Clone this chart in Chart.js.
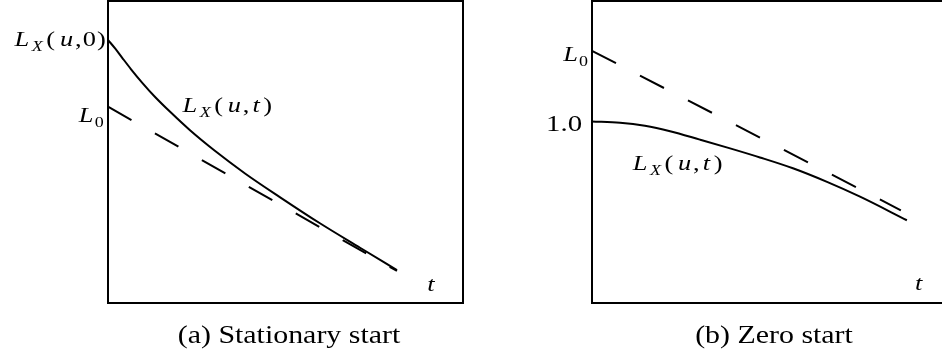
<!DOCTYPE html>
<html lang="en">
<head>
<meta charset="UTF-8" />
<title>Stationary start vs zero start</title>
<script src="https://cdn.jsdelivr.net/npm/chart.js"></script>
<style>
  html, body { margin: 0; padding: 0; background: #fff; overflow: hidden; }
  body { width: 942px; height: 358px; position: relative; }
  canvas { position: absolute; top: 0; }
  #chartA { left: 0; }
  #chartB { left: 471px; }
  .caption {
    position: absolute;
    top: 322px;
    font-family: "Liberation Serif", "Times New Roman", serif;
    font-size: 26px;
    line-height: 26px;
    color: #000;
    white-space: nowrap;
    transform: translateX(-50%) scaleX(1.15);
  }
</style>
</head>
<body>
<canvas id="chartA" width="471" height="358"></canvas>
<canvas id="chartB" width="480" height="358"></canvas>
<div class="caption" style="left:289px">(a) Stationary start</div>
<div class="caption" style="left:774px">(b) Zero start</div>

<script>
  // (a) stationary start: L_X(u,t) falls from L_X(u,0) onto the asymptote L_0
  const tA = [0, 0.2, 0.4, 0.65, 0.96, 1.32, 1.75, 2.31, 3.01, 3.86, 4.85, 5.97, 7.1, 8.14];
  const lxA = [8.71, 8.43, 8.12, 7.74, 7.3, 6.83, 6.33, 5.72, 5.04, 4.29, 3.5, 2.64, 1.83, 1.09];
  const tAsymA = [0, 8.14];
  const asymA = [6.5, 1.06];

  // (b) zero start: L_X(u,t) starts at 1.0 and runs below the asymptote
  const tB = [0, 0.79, 1.49, 2.2, 3.04, 3.89, 4.73, 5.66, 6.62, 7.55, 8.87];
  const lxB = [6.01, 5.97, 5.87, 5.69, 5.41, 5.12, 4.82, 4.46, 4.01, 3.52, 2.74];
  const tAsymB = [0, 8.7];
  const asymB = [8.35, 3.07];

  const INK = "#000";
  const SERIF = '"Liberation Serif", "Times New Roman", serif';
  const STRETCH = 1.2; // the printed lettering is wider than the plain font

  function pts(xs, ys) {
    return xs.map((x, i) => ({ x: x, y: ys[i] }));
  }

  // text pieces: [text, style, gap before]; i = italic, r = roman, s = italic subscript, sr = roman subscript
  function fontFor(style, size) {
    if (style === "s") return "italic " + Math.round(size * 0.68) + "px " + SERIF;
    if (style === "sr") return Math.round(size * 0.68) + "px " + SERIF;
    if (style === "i") return "italic " + size + "px " + SERIF;
    return size + "px " + SERIF;
  }

  function drawMath(ctx, x, y, parts, align, size) {
    let w = 0;
    parts.forEach(p => {
      ctx.font = fontFor(p[1], size);
      w += (p[2] || 0) + ctx.measureText(p[0]).width;
    });
    w *= STRETCH;
    ctx.save();
    ctx.translate(align === "right" ? x - w : x, y);
    ctx.scale(STRETCH, 1);
    ctx.textBaseline = "alphabetic";
    ctx.textAlign = "left";
    let cx = 0;
    parts.forEach(p => {
      ctx.font = fontFor(p[1], size);
      cx += p[2] || 0;
      const dy = (p[1] === "s" || p[1] === "sr") ? 5 : 0;
      ctx.fillText(p[0], cx, dy);
      cx += ctx.measureText(p[0]).width;
    });
    ctx.restore();
  }

  const LX_T = [["L", "i"], ["X", "s", 2], ["(", "r", 3], ["u", "i", 4], [",", "r", 1.5], ["t", "i", 2.5], [")", "r", 3]];
  const LX_0 = [["L", "i"], ["X", "s", 2], ["(", "r", 3], ["u", "i", 4], [",", "r", 1.5], ["0", "r", 1], [")", "r", 1]];
  const L_0 = [["L", "i"], ["0", "sr", 1]];

  // label anchors are given in data units so they follow the scales
  function labelPlugin(items) {
    return {
      id: "mathLabels",
      afterDraw(chart) {
        const ctx = chart.ctx;
        const xs = chart.scales.x, ys = chart.scales.y;
        const a = chart.chartArea;
        ctx.save();
        ctx.strokeStyle = INK;
        ctx.lineWidth = 2;
        ctx.strokeRect(a.left, a.top, a.right - a.left, a.bottom - a.top);
        ctx.fillStyle = INK;
        items.forEach(it => {
          drawMath(ctx, xs.getPixelForValue(it.x), ys.getPixelForValue(it.y), it.parts, it.align, it.size || 22);
        });
        ctx.restore();
      }
    };
  }

  function makeChart(id, curve, asym, padding, items) {
    return new Chart(document.getElementById(id).getContext("2d"), {
      type: "line",
      data: {
        datasets: [
          {
            data: curve,
            borderColor: INK,
            borderWidth: 2,
            pointRadius: 0,
            cubicInterpolationMode: "monotone",
            clip: false
          },
          {
            data: asym,
            borderColor: INK,
            borderWidth: 2,
            borderDash: [27, 27],
            pointRadius: 0,
            clip: false
          }
        ]
      },
      options: {
        responsive: false,
        animation: false,
        layout: { padding: padding },
        plugins: { legend: { display: false }, tooltip: { enabled: false } },
        scales: {
          x: { type: "linear", min: 0, max: 10, display: false },
          y: { type: "linear", min: 0, max: 10, display: false }
        }
      },
      plugins: [labelPlugin(items)]
    });
  }

  makeChart("chartA", pts(tA, lxA), pts(tAsymA, asymA),
    { left: 108, right: 8, top: 1, bottom: 55 },
    [
      { x: -0.06, y: 8.51, parts: LX_0, align: "right" },
      { x: -0.12, y: 6.0, parts: L_0, align: "right" },
      { x: 2.1, y: 6.31, parts: LX_T, align: "left" },
      { x: 8.99, y: 0.4, parts: [["t", "i"]], align: "left" }
    ]);

  makeChart("chartB", pts(tB, lxB), pts(tAsymB, asymB),
    { left: 121, right: 4, top: 1, bottom: 55 },
    [
      { x: -0.11, y: 8.02, parts: L_0, align: "right" },
      { x: -0.28, y: 5.71, parts: [["1.0", "r"]], align: "right", size: 24 },
      { x: 1.15, y: 4.39, parts: LX_T, align: "left" },
      { x: 9.1, y: 0.43, parts: [["t", "i"]], align: "left" }
    ]);
</script>
</body>
</html>
